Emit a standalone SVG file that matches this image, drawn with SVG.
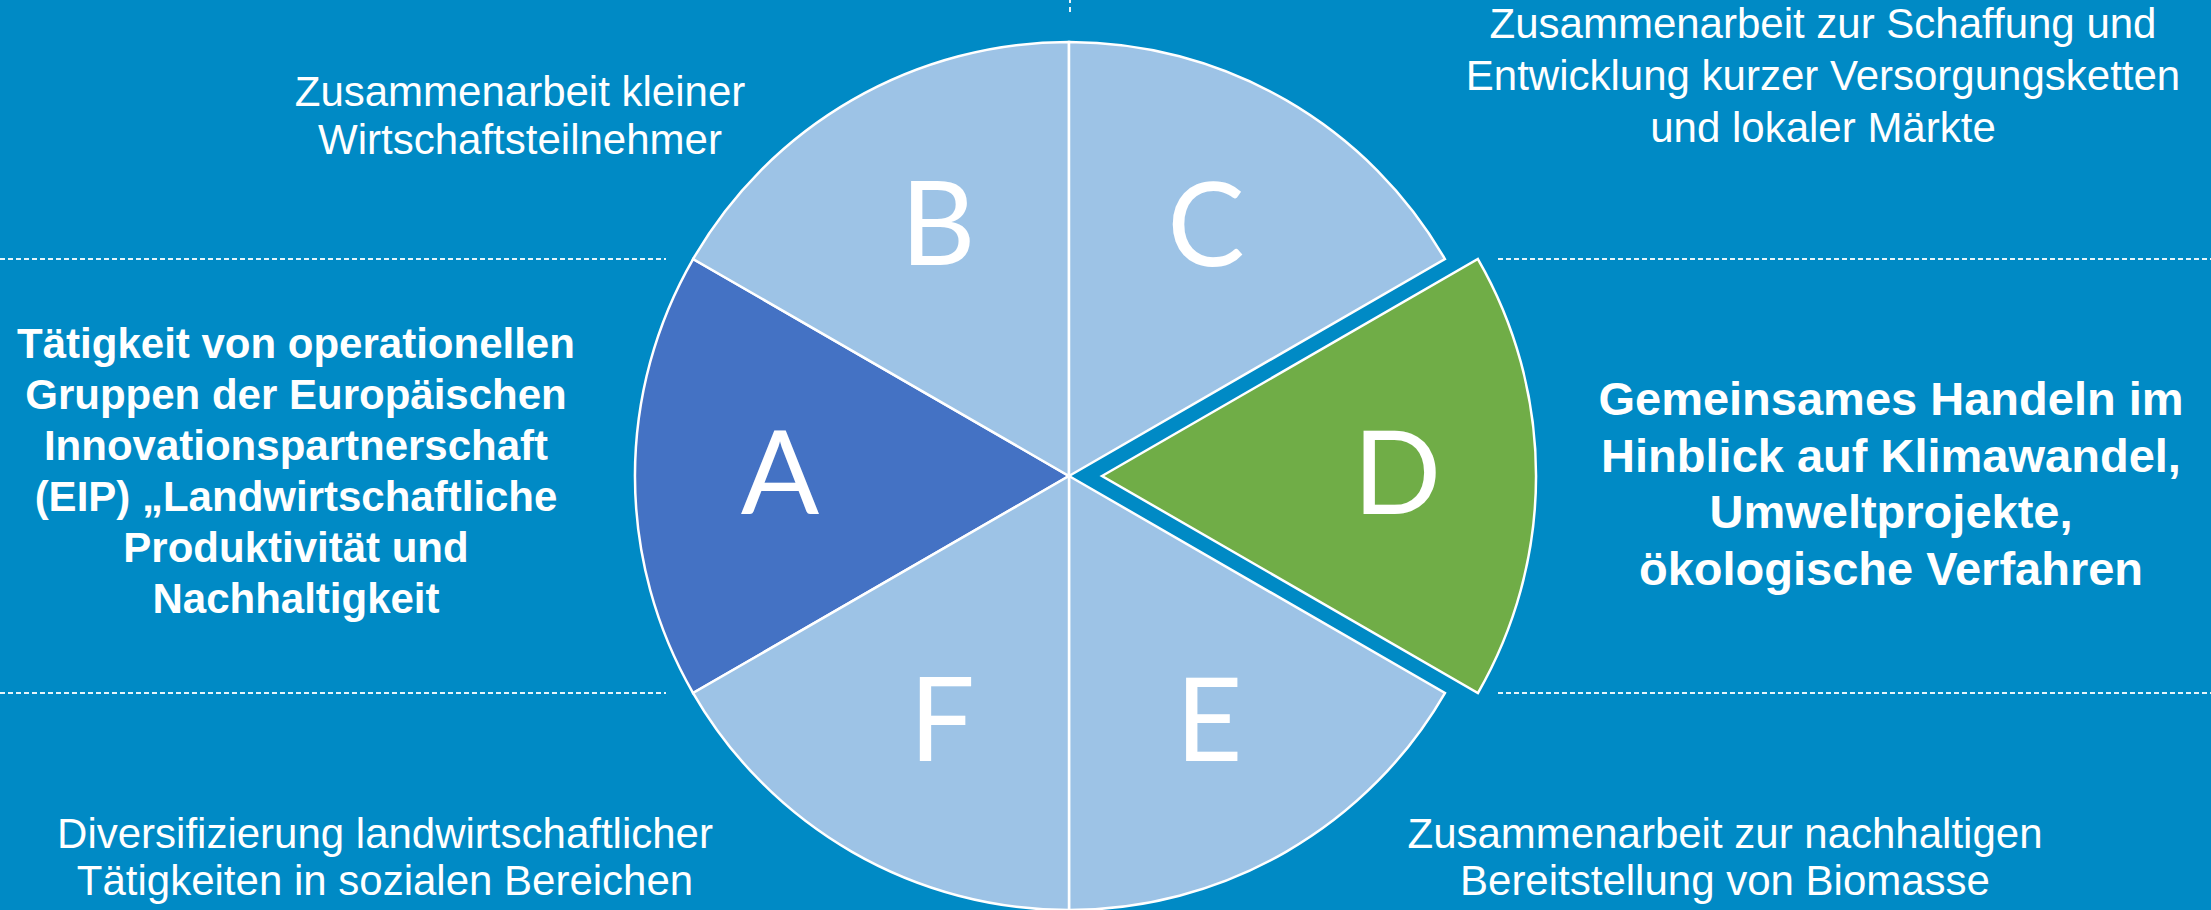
<svg xmlns="http://www.w3.org/2000/svg" width="2211" height="910" viewBox="0 0 2211 910">
  <style>
    .slice { stroke: #ffffff; stroke-width: 2.5; stroke-linejoin: miter; }
    .light { fill: #9DC3E6; }
    .a { fill: #4472C4; }
    .d { fill: #70AD47; }
    .letter { font-family: Lato, "Open Sans", "Liberation Sans", sans-serif; font-size: 116px; fill: #ffffff; text-anchor: middle; }
    .lbl { font-family: "Liberation Sans", Arial, sans-serif; font-size: 42px; fill: #ffffff; text-anchor: middle; }
    .bold { font-weight: bold; }
    .big { font-size: 47px; }
    .dash { stroke: #ffffff; stroke-width: 2; stroke-dasharray: 5 3; fill: none; opacity: 0.9; }
  </style>
  <rect x="0" y="0" width="2211" height="910" fill="#008AC5"/>

  <g id="guides">
    <line class="dash" x1="0" y1="259" x2="666" y2="259"/>
    <line class="dash" x1="0" y1="693" x2="666" y2="693"/>
    <line class="dash" x1="1498" y1="259" x2="2211" y2="259"/>
    <line class="dash" x1="1498" y1="693" x2="2211" y2="693"/>
    <line class="dash" x1="1070" y1="0" x2="1070" y2="13" style="stroke-dasharray: 3 4 5 4"/>
  </g>

  <g id="slice-A">
    <path class="slice a" d="M1069,476 L693.1,259 A434,434 0 0 0 693.1,693 Z"/>
    <text class="letter" x="780" y="514">A</text>
  </g>
  <g id="slice-B">
    <path class="slice light" d="M1069,476 L1069,42 A434,434 0 0 0 693.1,259 Z"/>
    <text class="letter" x="938" y="265">B</text>
  </g>
  <g id="slice-C">
    <path class="slice light" d="M1069,476 L1444.9,259 A434,434 0 0 0 1069,42 Z"/>
    <text class="letter" x="1206" y="266">C</text>
  </g>
  <g id="slice-D">
    <path class="slice d" d="M1102,476 L1477.9,259 A434,434 0 0 1 1477.9,693 Z"/>
    <text class="letter" x="1397" y="514">D</text>
  </g>
  <g id="slice-E">
    <path class="slice light" d="M1069,476 L1444.9,693 A434,434 0 0 1 1069,910 Z"/>
    <text class="letter" x="1209" y="761">E</text>
  </g>
  <g id="slice-F">
    <path class="slice light" d="M1069,476 L1069,910 A434,434 0 0 1 693.1,693 Z"/>
    <text class="letter" x="942" y="761">F</text>
  </g>

  <g id="label-A">
    <text class="lbl bold" x="296" y="357.5">Tätigkeit von operationellen</text>
    <text class="lbl bold" x="296" y="408.5">Gruppen der Europäischen</text>
    <text class="lbl bold" x="296" y="459.5">Innovationspartnerschaft</text>
    <text class="lbl bold" x="296" y="510.5">(EIP) „Landwirtschaftliche</text>
    <text class="lbl bold" x="296" y="561.5">Produktivität und</text>
    <text class="lbl bold" x="296" y="612.5">Nachhaltigkeit</text>
  </g>
  <g id="label-B">
    <text class="lbl" x="520" y="106">Zusammenarbeit kleiner</text>
    <text class="lbl" x="520" y="154">Wirtschaftsteilnehmer</text>
  </g>
  <g id="label-C">
    <text class="lbl" x="1823" y="38">Zusammenarbeit zur Schaffung und</text>
    <text class="lbl" x="1823" y="90">Entwicklung kurzer Versorgungsketten</text>
    <text class="lbl" x="1823" y="142">und lokaler Märkte</text>
  </g>
  <g id="label-D">
    <text class="lbl bold big" x="1891" y="415">Gemeinsames Handeln im</text>
    <text class="lbl bold big" x="1891" y="471.7">Hinblick auf Klimawandel,</text>
    <text class="lbl bold big" x="1891" y="528.3">Umweltprojekte,</text>
    <text class="lbl bold big" x="1891" y="585">ökologische Verfahren</text>
  </g>
  <g id="label-E">
    <text class="lbl" x="1725" y="848">Zusammenarbeit zur nachhaltigen</text>
    <text class="lbl" x="1725" y="895">Bereitstellung von Biomasse</text>
  </g>
  <g id="label-F">
    <text class="lbl" x="385" y="848">Diversifizierung landwirtschaftlicher</text>
    <text class="lbl" x="385" y="895">Tätigkeiten in sozialen Bereichen</text>
  </g>
</svg>
